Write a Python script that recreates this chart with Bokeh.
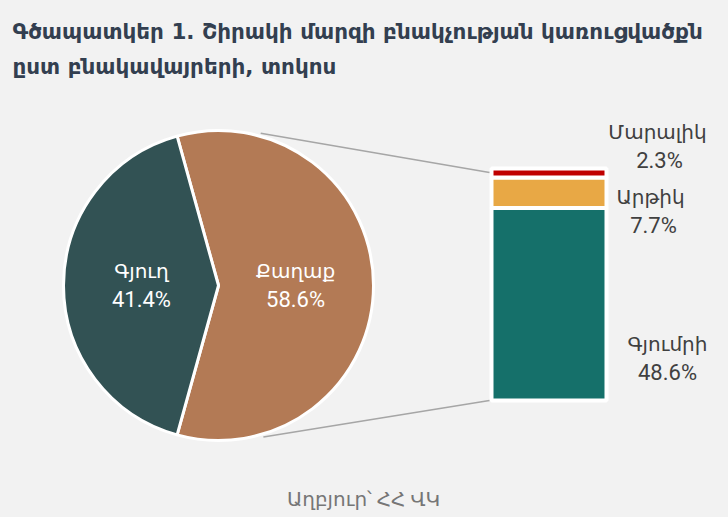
import math
from bokeh.plotting import figure
from bokeh.models import Range1d, ColumnDataSource
from bokeh.core.properties import value
from bokeh.embed import file_html
from bokeh.resources import INLINE

# ---- data ----
pie_labels = ["Քաղաք", "Գյուղ"]
pie_values = [58.6, 41.4]
pie_colors = ["#b37a55", "#325254"]

bar_labels = ["Գյումրի", "Արթիկ", "Մարալիկ"]
bar_values = [48.6, 7.7, 2.3]
bar_colors = ["#15706a", "#e8a845", "#c00000"]

title_lines = ["Գծապատկեր 1. Շիրակի մարզի բնակչության կառուցվածքն",
               "ըստ բնակավայրերի, տոկոս"]
source_text = "Աղբյուր՝ ՀՀ ՎԿ"

W, H = 728, 517
BG = "#f2f2f2"
FONT = "Roboto, DejaVu Sans"
TFONT = "DejaVu Sans"

p = figure(width=W, height=H, output_backend="svg", toolbar_location=None,
           x_range=Range1d(0, W), y_range=Range1d(0, H),
           min_border=0, background_fill_color=BG, border_fill_color=BG,
           outline_line_color=None)
p.axis.visible = False
p.grid.visible = False

# ---- pie ----
cx, cy, r = 218, H - 285, 155
total = sum(pie_values)
half = pie_values[0] / total * math.pi
starts = [-half, half]
ends = [half, 2 * math.pi - half]
p.wedge(x=cx, y=cy, radius=r, start_angle=starts, end_angle=ends,
        fill_color=pie_colors, line_color="white", line_width=3)

# pie labels
lab_x = [cx + 0.497 * r * math.cos(0.5 * (s + e)) for s, e in zip(starts, ends)]
for lx, lab, v in zip(lab_x, pie_labels, pie_values):
    p.text(x=[lx], y=[H - 270], text=[lab], text_align="center", text_baseline="middle",
           text_color="white", text_font=value(FONT), text_font_size="20px")
    p.text(x=[lx], y=[H - 299], text=[f"{v}%"], text_align="center", text_baseline="middle",
           text_color="white", text_font=value(FONT), text_font_size="22px")

# ---- bar (extra y range in percent) ----
bar_bottom_px, bar_top_px = H - 400, H - 168
bar_total = sum(bar_values)
scale = (bar_top_px - bar_bottom_px) / bar_total
p.extra_y_ranges = {"bar": Range1d(-bar_bottom_px / scale, (H - bar_bottom_px) / scale)}
bottoms, tops = [], []
acc = 0.0
for v in bar_values:
    bottoms.append(acc)
    acc += v
    tops.append(acc)
src = ColumnDataSource(dict(bottom=bottoms, top=tops, color=bar_colors))
p.quad(left=491, right=606, bottom="bottom", top="top", fill_color="color",
       line_color="white", line_width=4, source=src, y_range_name="bar")

# connector lines
a_top, a_bot = math.radians(74.5), math.radians(-73.5)
p.segment(x0=[cx + 158 * math.cos(a_top), cx + 158 * math.cos(a_bot)],
          y0=[cy + 158 * math.sin(a_top), cy + 158 * math.sin(a_bot)],
          x1=[489, 489], y1=[H - 172, H - 400],
          line_color="#a6a6a6", line_width=1.5)

# bar labels
bl_x = [667, 650, 657]
pct_x = [667, 653, 659]
bl_y = [H - 343, H - 196, H - 131]
for x, px, y, lab, v in zip(bl_x, pct_x, bl_y, bar_labels, bar_values):
    p.text(x=[x], y=[y], text=[lab], text_align="center", text_baseline="middle",
           text_color="#404040", text_font=value(FONT), text_font_size="20px")
    p.text(x=[px], y=[y - 29], text=[f"{v}%"], text_align="center", text_baseline="middle",
           text_color="#404040", text_font=value(FONT), text_font_size="22px")

# title
for i, t in enumerate(title_lines):
    p.text(x=[12], y=[H - 31 - i * 35], text=[t], text_align="left", text_baseline="middle",
           text_color="#333f50", text_font=value(TFONT), text_font_size="21.5px",
           text_font_style="bold")

# source
p.text(x=[363], y=[H - 498], text=[source_text], text_align="center", text_baseline="middle",
       text_color="#767676", text_font=value(FONT), text_font_size="20px")

html = file_html(p, INLINE)
html = html.replace("<head>", "<head><style>html,body{margin:0;padding:0;background:%s;}</style>" % BG, 1)
open("out.html", "w").write(html)
